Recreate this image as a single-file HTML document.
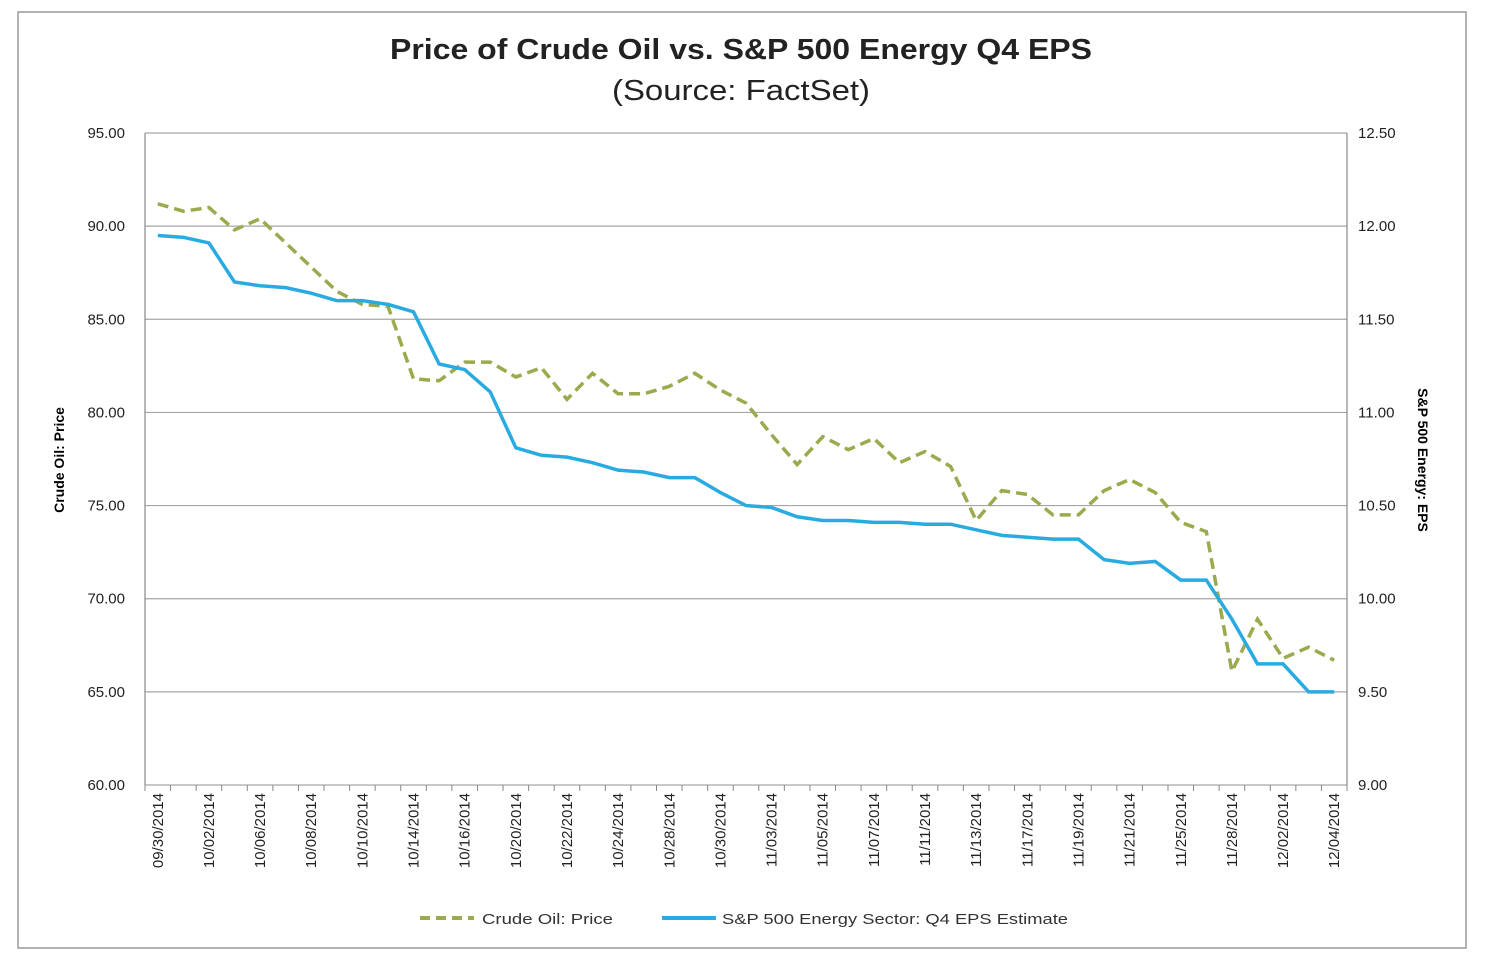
<!DOCTYPE html>
<html><head><meta charset="utf-8"><style>
body{margin:0;background:#fff;font-family:"Liberation Sans",sans-serif;}
svg{display:block}
</style></head><body>
<svg width="1485" height="956" font-family="Liberation Sans, sans-serif">
<rect x="18" y="12" width="1448" height="936" fill="#fff" stroke="#999" stroke-width="1.5"/>
<text x="390" y="59" textLength="702" lengthAdjust="spacingAndGlyphs" font-size="29" font-weight="bold" fill="#222">Price of Crude Oil vs. S&amp;P 500 Energy Q4 EPS</text>
<text x="612" y="100" textLength="258" lengthAdjust="spacingAndGlyphs" font-size="29" fill="#222">(Source: FactSet)</text>
<g id="grid"></g><g id="axes"></g><g id="series"></g>
<text transform="translate(64,460) rotate(-90)" text-anchor="middle" font-size="14" font-weight="bold">Crude Oil: Price</text>
<text transform="translate(1418,460) rotate(90)" text-anchor="middle" font-size="14" font-weight="bold">S&amp;P 500 Energy: EPS</text>
<g>
<line x1="420" y1="918" x2="474" y2="918" stroke="#9BAA4D" stroke-width="4" stroke-dasharray="10,6"/>
<text x="482" y="924" textLength="131" lengthAdjust="spacingAndGlyphs" font-size="15" fill="#333">Crude Oil: Price</text>
<line x1="662" y1="918" x2="716" y2="918" stroke="#29ABE2" stroke-width="4"/>
<text x="722" y="924" textLength="346" lengthAdjust="spacingAndGlyphs" font-size="15" fill="#333">S&amp;P 500 Energy Sector: Q4 EPS Estimate</text>
</g>
</svg>
<script>
const dates=["09/30/2014","10/01","10/02/2014","10/03","10/06/2014","10/07","10/08/2014","10/09","10/10/2014","10/13","10/14/2014","10/15","10/16/2014","10/17","10/20/2014","10/21","10/22/2014","10/23","10/24/2014","10/27","10/28/2014","10/29","10/30/2014","10/31","11/03/2014","11/04","11/05/2014","11/06","11/07/2014","11/10","11/11/2014","11/12","11/13/2014","11/14","11/17/2014","11/18","11/19/2014","11/20","11/21/2014","11/24","11/25/2014","11/26","11/28/2014","12/01","12/02/2014","12/03","12/04/2014"];
const oil=[91.2,90.8,91.0,89.8,90.4,89.1,87.8,86.5,85.8,85.7,81.8,81.7,82.7,82.7,81.9,82.4,80.7,82.1,81.0,81.0,81.4,82.1,81.2,80.5,78.8,77.2,78.7,78.0,78.6,77.3,77.9,77.1,74.2,75.8,75.6,74.5,74.5,75.8,76.4,75.7,74.1,73.6,66.1,68.9,66.8,67.4,66.7];
const eps=[11.95,11.94,11.91,11.70,11.68,11.67,11.64,11.60,11.60,11.58,11.54,11.26,11.23,11.11,10.81,10.77,10.76,10.73,10.69,10.68,10.65,10.65,10.57,10.50,10.49,10.44,10.42,10.42,10.41,10.41,10.40,10.40,10.37,10.34,10.33,10.32,10.32,10.21,10.19,10.20,10.10,10.10,9.89,9.65,9.65,9.50,9.50];
const leftTicks=[60,65,70,75,80,85,90,95];
const rightTicks=[9.0,9.5,10.0,10.5,11.0,11.5,12.0,12.5];
const L=145,R=1347,T=133,B=785,NS="http://www.w3.org/2000/svg";
const bw=(R-L)/dates.length;
const x=i=>L+bw*(i+0.5);
const yl=v=>B-(v-60)/35*(B-T);
const yr=v=>B-(v-9)/3.5*(B-T);
function mk(tag,a,p,txt){const e=document.createElementNS(NS,tag);for(const k in a)e.setAttribute(k,a[k]);if(txt!=null)e.textContent=txt;p.appendChild(e);return e;}
const g=document.getElementById('grid'),ax=document.getElementById('axes'),s=document.getElementById('series');
leftTicks.forEach((v,i)=>{
 const ln=mk('line',{x1:L,x2:R,y1:yl(v),y2:yl(v),stroke:'#a6a6a6','stroke-width':1.2},g);
 
 
 const t=mk('text',{x:125,y:yl(v)+5,'text-anchor':'end','font-size':15,fill:'#222'},ax,v.toFixed(2));
 
 
});
rightTicks.forEach(v=>{
 const t=mk('text',{x:1358,y:yr(v)+5,'font-size':15,fill:'#222'},ax,v.toFixed(2));
 
 
});
mk('line',{x1:L,x2:L,y1:T,y2:B,stroke:'#888','stroke-width':1.2},ax);
mk('line',{x1:R,x2:R,y1:T,y2:B,stroke:'#888','stroke-width':1.2},ax);
for(let i=0;i<=dates.length;i++){mk('line',{x1:L+bw*i,x2:L+bw*i,y1:B,y2:B+6,stroke:'#888'},ax);}
dates.forEach((d,i)=>{
 if(i%2)return;
 const t=mk('text',{transform:`translate(${x(i)+5},${B+8}) rotate(-90)`,'text-anchor':'end','font-size':15,fill:'#222'},ax,d);
 
 
});
const po=mk('polyline',{points:oil.map((v,i)=>x(i)+','+yl(v)).join(' '),fill:'none',stroke:'#9BAA4D','stroke-width':3.5,'stroke-dasharray':'11,6'},s);


const pe=mk('polyline',{points:eps.map((v,i)=>x(i)+','+yr(v)).join(' '),fill:'none',stroke:'#29ABE2','stroke-width':3.5},s);


</script>
</body></html>
